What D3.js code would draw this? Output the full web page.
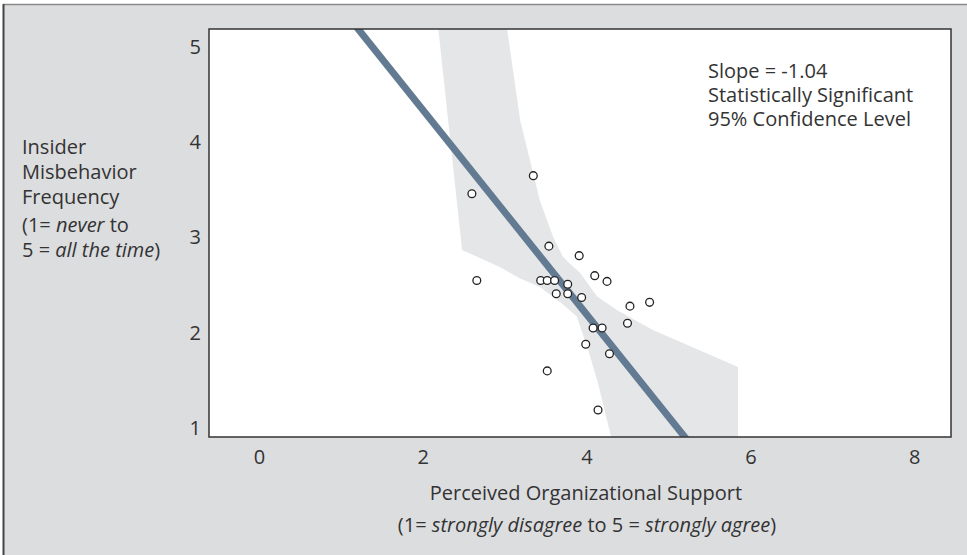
<!DOCTYPE html>
<html>
<head>
<meta charset="utf-8">
<script src="https://cdn.jsdelivr.net/npm/d3@7"></script>
<style>
  body { margin: 0; background: #fff; }
  svg { display: block; font-family: "Open Sans", sans-serif; }
  .tick text { fill: #333; font-size: 20px; font-family: "Open Sans", sans-serif; }
  .lbl { fill: #333; font-size: 20px; }
</style>
</head>
<body>
<svg id="graphsvg" width="967" height="555"></svg>
<script>
// support score (x) and misbehavior frequency (y) per respondent
var supportX = [3.35, 2.60, 2.66, 3.54, 3.91, 3.44, 3.52, 3.61, 3.77, 3.63, 3.77, 3.94,
                4.10, 4.25, 4.53, 4.77, 4.50, 4.08, 4.19, 3.99, 4.28, 3.52, 4.14];
var misbehaviorY = [3.65, 3.46, 2.55, 2.91, 2.81, 2.55, 2.55, 2.55, 2.51, 2.41, 2.41, 2.37,
                    2.60, 2.54, 2.28, 2.32, 2.10, 2.05, 2.05, 1.88, 1.78, 1.60, 1.19];

// fitted line
var fitIntercept = 6.49, fitSlope = -1.074;

// confidence band outline (data units), traced clockwise from top left
var bandX = [2.19, 2.31, 2.48, 2.94, 3.19, 3.43, 3.68, 3.88, 4.02, 4.14, 4.30,
             5.85, 5.85, 4.81, 4.37, 4.13, 3.92, 3.79, 3.71, 3.59, 3.43, 3.19, 3.03];
var bandY = [5.19, 4.23, 2.87, 2.69, 2.57, 2.48, 2.32, 2.17, 1.82, 1.47, 0.906,
             0.906, 1.64, 2.03, 2.24, 2.38, 2.63, 2.73, 2.80, 3.01, 3.39, 4.23, 5.19];

var xTicks = [0, 2, 4, 6, 8];
var yTicks = [1, 2, 3, 4, 5];

var svg = d3.select("#graphsvg"),
    margin = {top: 29, left: 209},
    width = 742,
    height = 408;

// outer panel
svg.append("rect")
    .attr("x", 3).attr("y", 4)
    .attr("width", 970).attr("height", 560)
    .attr("fill", "#dcdddf");
svg.append("line")
    .attr("x1", 3).attr("x2", 967).attr("y1", 4.5).attr("y2", 4.5)
    .attr("stroke", "#8a8a8a").attr("stroke-width", 1.5);
svg.append("line")
    .attr("x1", 3.5).attr("x2", 3.5).attr("y1", 4).attr("y2", 555)
    .attr("stroke", "#444").attr("stroke-width", 2);

var x = d3.scaleLinear().domain([-0.61, 8.45]).range([0, width]);
var y = d3.scaleLinear().domain([0.906, 5.19]).range([height, 0]);

var g = svg.append("g")
    .attr("transform", "translate(" + margin.left + "," + margin.top + ")");

g.append("rect")
    .attr("width", width).attr("height", height)
    .attr("fill", "#fff");

svg.append("clipPath").attr("id", "plotclip")
  .append("rect").attr("width", width).attr("height", height);

var plot = g.append("g").attr("clip-path", "url(#plotclip)");

// confidence band
var band = d3.range(bandX.length).map(function(i) { return [bandX[i], bandY[i]]; });
plot.append("path")
    .datum(band)
    .attr("fill", "#e5e6e8")
    .attr("d", d3.line()
        .x(function(d) { return x(d[0]); })
        .y(function(d) { return y(d[1]); }));

// regression line
var lineEnds = x.domain();
plot.append("line")
    .attr("x1", x(lineEnds[0])).attr("y1", y(fitIntercept + fitSlope * lineEnds[0]))
    .attr("x2", x(lineEnds[1])).attr("y2", y(fitIntercept + fitSlope * lineEnds[1]))
    .attr("stroke", "#637b92")
    .attr("stroke-width", 7);

// points
plot.selectAll(".pt")
    .data(supportX)
  .enter().append("circle")
    .attr("class", "pt")
    .attr("cx", function(d) { return x(d); })
    .attr("cy", function(d, i) { return y(misbehaviorY[i]); })
    .attr("r", 3.9)
    .attr("fill", "#fff")
    .attr("stroke", "#222")
    .attr("stroke-width", 1.3);

// frame
g.append("rect")
    .attr("width", width).attr("height", height)
    .attr("fill", "none")
    .attr("stroke", "#333")
    .attr("stroke-width", 1.5);

// axes (labels only)
var xAxis = g.append("g")
    .attr("transform", "translate(0," + height + ")")
    .call(d3.axisBottom(x).tickValues(xTicks).tickFormat(d3.format("d")).tickSize(0).tickPadding(13));
xAxis.select(".domain").remove();
xAxis.attr("font-family", null).attr("font-size", null);

var yAxis = g.append("g")
    .call(d3.axisLeft(y).tickValues(yTicks).tickFormat(d3.format("d")).tickSize(0).tickPadding(8));
yAxis.select(".domain").remove();
yAxis.attr("font-family", null).attr("font-size", null);

// x title
svg.append("text").attr("class", "lbl")
    .attr("x", 586).attr("y", 500)
    .attr("text-anchor", "middle")
    .text("Perceived Organizational Support");
var sub = svg.append("text").attr("class", "lbl")
    .attr("x", 587).attr("y", 532)
    .attr("text-anchor", "middle");
sub.append("tspan").text("(1= ");
sub.append("tspan").attr("font-style", "italic").text("strongly disagree");
sub.append("tspan").text(" to 5 = ");
sub.append("tspan").attr("font-style", "italic").text("strongly agree");
sub.append("tspan").text(")");

// y title
var yLines = ["Insider", "Misbehavior", "Frequency"];
svg.selectAll(".ylbl")
    .data(yLines)
  .enter().append("text")
    .attr("class", "lbl ylbl")
    .attr("x", 22)
    .attr("y", function(d, i) { return 154 + i * 25; })
    .text(function(d) { return d; });
var y1 = svg.append("text").attr("class", "lbl").attr("x", 22).attr("y", 232);
y1.append("tspan").text("(1= ");
y1.append("tspan").attr("font-style", "italic").text("never");
y1.append("tspan").text(" to");
var y2 = svg.append("text").attr("class", "lbl").attr("x", 22).attr("y", 257);
y2.append("tspan").text("5 = ");
y2.append("tspan").attr("font-style", "italic").text("all the time");
y2.append("tspan").text(")");

// annotation
var notes = ["Slope = -1.04", "Statistically Significant", "95% Confidence Level"];
svg.selectAll(".note")
    .data(notes)
  .enter().append("text")
    .attr("class", "lbl note")
    .attr("x", 708)
    .attr("y", function(d, i) { return 78 + i * 24; })
    .text(function(d) { return d; });
</script>
</body>
</html>
